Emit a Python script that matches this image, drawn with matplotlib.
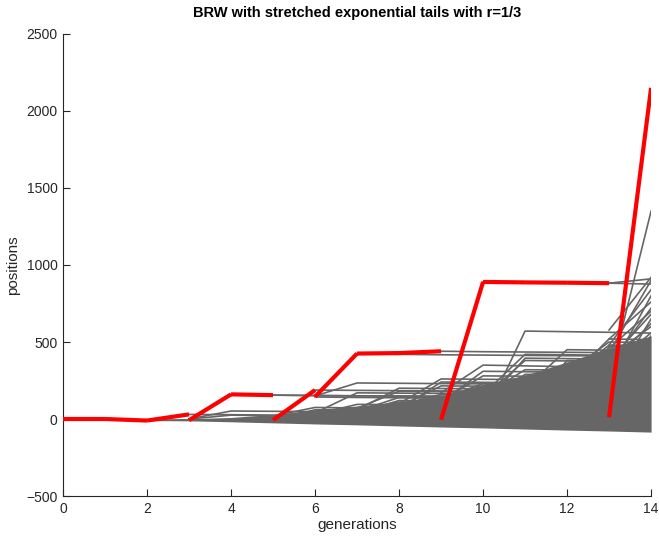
import matplotlib
matplotlib.use("Agg")
import matplotlib.pyplot as plt

plt.rcParams['font.family'] = ['Liberation Sans', 'DejaVu Sans']

# generations axis
generations = list(range(15))

# leader of each generation: position of the maximum particle and of its parent
red_max = [0, -10, 30, 160, 155, 188, 425, 428, 440, 890, 887, 885, 882, 2150]
red_parent = [0, 0, -10, -8, 160, -7, 145, 425, 428, -5, 890, 887, 885, 12]

# envelope of the dense bulk of particles (per generation)
bulk_low = [0, 0, -10, -12, -18, -25, -32, -38, -45, -52, -58, -65, -72, -78, -85]
bulk_high = [0, 0, -5, 2, 10, 30, 60, 85, 110, 150, 225, 285, 370, 460, 540]

# individual visible trajectories: first generation and positions from there on
gray_start = [
    2, 3, 3, 3, 4, 5, 5, 6, 6, 6,
    7, 7, 7, 8, 8, 8, 9, 9, 9, 9,
    10, 10, 10, 10, 11, 11, 11, 12, 12, 12,
    13, 13, 13, 13, 13, 13, 13, 13, 13, 13,
    13, 13, 13, 12, 11,
    5, 6, 6, 7, 7, 8, 8, 8, 9, 9,
    9, 10, 10, 10, 11, 11, 11, 12, 12, 9,
    7, 10, 11, 12, 8,
]
gray_values = [
    [-10, -5, -8, -12, -15, -18, -22, -26, -30, -34, -38, -42, -46],
    [0, 52, 50, 48, 46, 44, 42, 40, 38, 36, 34, 32],
    [30, 28, 25, 22, 20, 18, 16, 14, 12, 10, 8, 6],
    [0, 25, 22, 20, 18, 16, 14, 12, 10, 8, 6, 4],
    [160, 155, 153, 151, 149, 147, 145, 143, 141, 139, 137],
    [155, 152, 150, 149, 148, 147, 146, 145, 144, 143],
    [-7, 60, 58, 56, 54, 52, 50, 48, 46, 44],
    [188, 186, 184, 182, 180, 178, 176, 174, 172],
    [150, 234, 232, 230, 228, 226, 224, 222, 220],
    [143, 140, 138, 136, 134, 132, 130, 128, 126],
    [425, 420, 417, 415, 413, 411, 409, 407],
    [40, 120, 118, 116, 114, 112, 110, 108],
    [60, 200, 198, 196, 194, 192, 190, 188],
    [60, 240, 238, 236, 234, 232, 230],
    [90, 160, 158, 156, 154, 152, 150],
    [30, 100, 98, 96, 94, 92, 90],
    [440, 437, 435, 433, 431, 428],
    [170, 350, 345, 340, 335, 330],
    [120, 280, 278, 276, 274, 272],
    [80, 205, 203, 201, 199, 197],
    [0, 571, 567, 563, 558],
    [100, 290, 288, 286, 284],
    [890, 887, 885, 882, 876],
    [150, 320, 318, 316, 314],
    [40, 300, 298, 296],
    [60, 380, 378, 376],
    [120, 250, 248, 246],
    [100, 470, 466],
    [150, 400, 398],
    [250, 520, 515],
    [250, 1350],
    [578, 920],
    [480, 840],
    [350, 720],
    [430, 900],
    [300, 800],
    [200, 650],
    [400, 600],
    [460, 700],
    [882, 910],
    [520, 760],
    [330, 560],
    [380, 680],
    [80, 200, 540],
    [60, 360, 355, 620],
    [20, 75, 72, 70, 68, 66, 64, 62, 60, 58],
    [30, 95, 93, 91, 89, 87, 85, 83, 81],
    [40, 170, 168, 166, 164, 162, 160, 158, 156],
    [50, 140, 138, 136, 134, 132, 130, 128],
    [70, 180, 178, 176, 174, 172, 170, 168],
    [80, 215, 213, 211, 209, 207, 205],
    [70, 130, 128, 126, 124, 122, 120],
    [100, 260, 258, 256, 254, 252, 250],
    [110, 310, 307, 304, 301, 298],
    [90, 190, 188, 186, 184, 182],
    [130, 230, 228, 226, 224, 222],
    [140, 380, 377, 374, 371],
    [120, 270, 268, 266, 264],
    [160, 420, 417, 414, 411],
    [200, 450, 447, 444],
    [180, 340, 337, 334],
    [150, 300, 298, 296],
    [260, 480, 476],
    [280, 440, 436],
    [100, 155, 153, 151, 149, 147],
    [60, 110, 108, 106, 104, 102, 100, 98],
    [90, 395, 392, 389, 386],
    [190, 360, 357, 354],
    [300, 500, 497],
    [70, 120, 118, 116, 114, 112, 110],
]

fig = plt.figure(figsize=(6.59, 5.36), dpi=100)
ax = fig.add_axes([0.0956, 0.0746, 0.8924, 0.862])

gray = '#666666'
ax.fill_between(generations, bulk_low, bulk_high, color=gray, lw=0, zorder=1)
for start, vals in zip(gray_start, gray_values):
    xs = list(range(start, start + len(vals)))
    ax.plot(xs, vals, color=gray, lw=1.2, zorder=2)

for k in range(len(red_max)):
    ax.plot([k, k + 1], [red_parent[k], red_max[k]], color='red', lw=3,
            solid_capstyle='butt', zorder=3)

ax.set_xlim(0, 14)
ax.set_ylim(-500, 2500)
ax.set_xticks(range(0, 15, 2))
ax.set_yticks(range(-500, 2501, 500))
ax.spines['top'].set_visible(False)
ax.spines['right'].set_visible(False)
for s in ('left', 'bottom'):
    ax.spines[s].set_color('#262626')
    ax.spines[s].set_linewidth(0.8)
ax.tick_params(direction='in', length=5, width=0.8, colors='#262626',
               labelsize=10, pad=4)
ax.set_xlabel('generations', fontsize=11, color='#262626', labelpad=2)
ax.set_ylabel('positions', fontsize=11, color='#262626', labelpad=4)
ax.set_title('BRW with stretched exponential tails with r=1/3',
             fontsize=10.5, fontweight='bold', pad=12)

fig.savefig('out.png', dpi=100)
